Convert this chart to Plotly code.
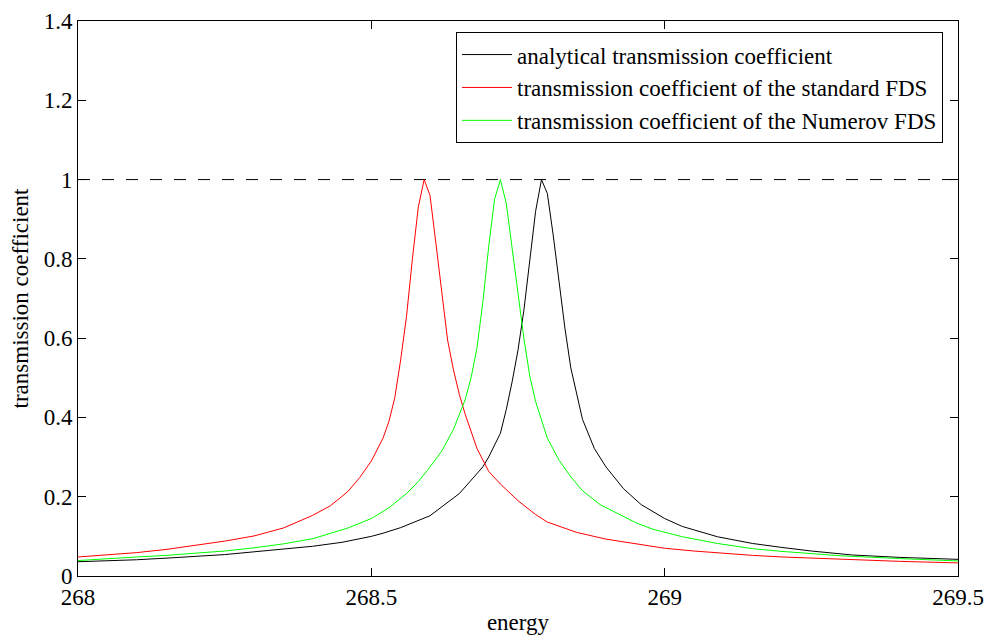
import plotly.graph_objects as go

# energy / transmission values
energy_std = [268.00, 268.05, 268.10, 268.15, 268.20, 268.25, 268.30, 268.35, 268.40, 268.43,
              268.46, 268.48, 268.50, 268.52, 268.53, 268.54, 268.55, 268.56, 268.57, 268.58,
              268.59, 268.60, 268.61, 268.62, 268.63, 268.64, 268.65, 268.66, 268.68, 268.70,
              268.72, 268.75, 268.78, 268.80, 268.85, 268.90, 268.95, 269.00, 269.05, 269.10,
              269.15, 269.20, 269.30, 269.40, 269.50]
trans_std = [0.048, 0.054, 0.059, 0.067, 0.078, 0.088, 0.101, 0.121, 0.153, 0.177,
             0.213, 0.248, 0.290, 0.348, 0.390, 0.450, 0.545, 0.655, 0.800, 0.930,
             1.000, 0.960, 0.840, 0.710, 0.595, 0.520, 0.458, 0.408, 0.322, 0.264,
             0.232, 0.190, 0.155, 0.136, 0.110, 0.093, 0.081, 0.070, 0.063, 0.057,
             0.052, 0.048, 0.042, 0.037, 0.033]

energy_num = [268.00, 268.05, 268.10, 268.15, 268.20, 268.25, 268.30, 268.35, 268.40, 268.46,
              268.50, 268.53, 268.56, 268.58, 268.60, 268.62, 268.64, 268.66, 268.67, 268.68,
              268.69, 268.70, 268.71, 268.72, 268.73, 268.74, 268.75, 268.76, 268.77, 268.78,
              268.80, 268.82, 268.84, 268.86, 268.89, 268.92, 268.95, 268.98, 269.03, 269.09,
              269.15, 269.20, 269.30, 269.40, 269.50]
trans_num = [0.039, 0.044, 0.048, 0.052, 0.057, 0.063, 0.071, 0.081, 0.094, 0.121,
             0.145, 0.172, 0.208, 0.238, 0.275, 0.315, 0.370, 0.445, 0.500, 0.575,
             0.690, 0.830, 0.950, 1.000, 0.940, 0.830, 0.710, 0.600, 0.505, 0.440,
             0.348, 0.292, 0.250, 0.215, 0.180, 0.157, 0.135, 0.118, 0.099, 0.082,
             0.069, 0.062, 0.051, 0.044, 0.038]

energy_ana = [268.00, 268.05, 268.10, 268.15, 268.20, 268.25, 268.30, 268.35, 268.40, 268.45,
              268.50, 268.52, 268.55, 268.60, 268.63, 268.65, 268.69, 268.70, 268.72, 268.73,
              268.74, 268.75, 268.76, 268.77, 268.78, 268.79, 268.80, 268.81, 268.82, 268.83,
              268.84, 268.85, 268.86, 268.88, 268.90, 268.93, 268.96, 269.00, 269.03, 269.09,
              269.15, 269.20, 269.25, 269.32, 269.40, 269.50]
trans_ana = [0.036, 0.038, 0.041, 0.045, 0.050, 0.054, 0.061, 0.068, 0.075, 0.085,
             0.100, 0.108, 0.122, 0.152, 0.187, 0.208, 0.275, 0.300, 0.360, 0.420,
             0.490, 0.570, 0.670, 0.800, 0.920, 1.000, 0.965, 0.860, 0.740, 0.625,
             0.525, 0.460, 0.395, 0.322, 0.275, 0.220, 0.180, 0.145, 0.125, 0.099,
             0.082, 0.072, 0.063, 0.053, 0.047, 0.042]

ref_energy = [268.0, 269.5]
ref_level = [1.0, 1.0]

x_ticks = [268, 268.5, 269, 269.5]
x_ticktext = ["268", "268.5", "269", "269.5"]
y_ticks = [0, 0.2, 0.4, 0.6, 0.8, 1.0, 1.2, 1.4]
y_ticktext = ["0", "0.2", "0.4", "0.6", "0.8", "1", "1.2", "1.4"]

FONT = "Liberation Serif, Times New Roman, serif"

fig = go.Figure()
fig.add_trace(go.Scatter(x=ref_energy, y=ref_level, mode="lines", showlegend=False,
                         line=dict(color="black", width=1, dash="12px,12px"), hoverinfo="skip"))
fig.add_trace(go.Scatter(x=energy_ana, y=trans_ana, mode="lines",
                         name="analytical transmission coefficient",
                         line=dict(color="black", width=1)))
fig.add_trace(go.Scatter(x=energy_std, y=trans_std, mode="lines",
                         name="transmission coefficient of the standard FDS",
                         line=dict(color="#ff0000", width=1)))
fig.add_trace(go.Scatter(x=energy_num, y=trans_num, mode="lines",
                         name="transmission coefficient of the Numerov FDS",
                         line=dict(color="#00ff00", width=1)))

axis_common = dict(showline=True, linecolor="black", linewidth=1, mirror="ticks",
                   ticks="inside", ticklen=8, tickcolor="black", showgrid=False,
                   zeroline=False, automargin=False,
                   tickfont=dict(family=FONT, size=23, color="black"))

fig.update_xaxes(range=[268, 269.5], tickvals=x_ticks, ticktext=x_ticktext,
                 title=dict(text="energy", font=dict(family=FONT, size=23, color="black"), standoff=10),
                 **axis_common)
fig.update_yaxes(range=[0, 1.4], tickvals=y_ticks, ticktext=y_ticktext,
                 title=dict(text="transmission coefficient", font=dict(family=FONT, size=23, color="black"), standoff=8),
                 **axis_common)

fig.update_layout(
    width=984, height=635,
    margin=dict(l=78, r=26, t=21, b=59),
    plot_bgcolor="white", paper_bgcolor="white",
    font=dict(family=FONT, size=23, color="black"),
    legend=dict(x=0.983, y=0.98, xanchor="right", yanchor="top",
                bgcolor="white", bordercolor="black", borderwidth=1,
                font=dict(family=FONT, size=23, color="black"),
                tracegroupgap=0, itemwidth=50),
)

fig.write_html("out.html")
